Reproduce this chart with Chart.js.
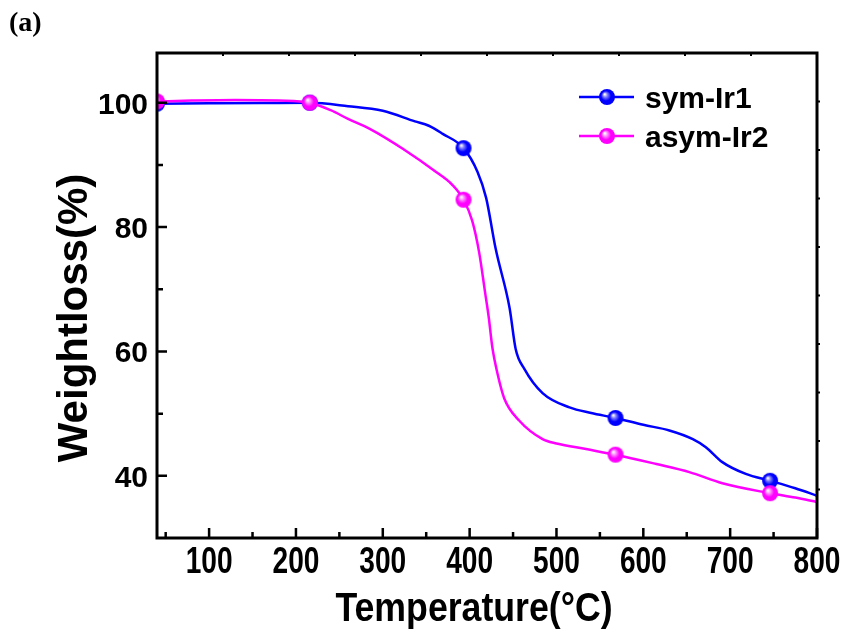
<!DOCTYPE html>
<html>
<head>
<meta charset="utf-8">
<script src="https://cdn.jsdelivr.net/npm/chart.js@4.4.0/dist/chart.umd.min.js"></script>
<style>
html,body{margin:0;padding:0;background:#fff;}
#wrap{width:856px;height:634px;position:relative;}
</style>
</head>
<body>
<div id="wrap"><canvas id="c" width="856" height="634"></canvas></div>
<script>
// ---- data ----
const seriesNames = ['sym-Ir1', 'asym-Ir2'];
const symTemp = [40, 100, 160, 216, 260, 300, 337, 353, 369, 393, 409, 419, 430, 446, 453, 463, 484, 515, 540, 568, 600, 630, 657, 672, 691, 718, 746, 775, 800];
const symWeight = [99.85, 99.9, 99.95, 100.0, 99.45, 98.7, 97.0, 96.3, 95.0, 92.7, 88.9, 84.7, 76.5, 67.0, 60.4, 57.2, 53.3, 51.0, 50.1, 49.3, 48.2, 47.3, 45.9, 44.6, 42.2, 40.3, 39.2, 38.0, 36.8];
const asymTemp = [40, 80, 130, 180, 216, 240, 260, 285, 323, 361, 380, 393, 403, 411, 418, 422, 426, 432, 440, 457, 484, 500, 534, 568, 615, 653, 691, 746, 775, 800];
const asymWeight = [100.2, 100.35, 100.45, 100.35, 100.0, 98.8, 97.4, 95.8, 92.6, 88.9, 86.8, 84.4, 81.0, 75.9, 69.3, 65.5, 60.8, 56.5, 52.4, 48.9, 45.9, 45.2, 44.3, 43.4, 41.9, 40.6, 38.8, 37.2, 36.5, 35.8];
const markerTemps = [40, 216, 393, 568, 746];
const xTickLabels = [100, 200, 300, 400, 500, 600, 700, 800];
const xMinorTicks = [50, 150, 250, 350, 450, 550, 650, 750];
const yTickLabels = [40, 60, 80, 100];
const yMinorTicks = [50, 70, 90];
const xTitle = 'Temperature(\u00B0C)';
const yTitle = 'Weightloss(%)';
const panelLabel = '(a)';

const BLUE = '#0000FF', MAG = '#FF00FF';

function makeBall(color, hi, r) {
  const c = document.createElement('canvas');
  c.width = c.height = r * 2 + 2;
  const g = c.getContext('2d');
  const cx = r + 1, cy = r + 1;
  const grad = g.createRadialGradient(cx - r * 0.3, cy - r * 0.35, r * 0.05, cx, cy, r);
  grad.addColorStop(0, '#ffffff');
  grad.addColorStop(0.25, hi);
  grad.addColorStop(0.6, color);
  grad.addColorStop(1, color);
  g.fillStyle = grad;
  g.beginPath(); g.arc(cx, cy, r, 0, Math.PI * 2); g.fill();
  return c;
}
const blueBall = makeBall(BLUE, '#8080ff', 8);
const magBall = makeBall(MAG, '#ff90ff', 8);

function pts(t, w) { return t.map((x, i) => ({x: x, y: w[i]})); }
function markerRadius(ctx) {
  const v = ctx.raw;
  return v && markerTemps.includes(v.x) ? 8 : 0;
}

function txt(ctx, s, x, y, font, align, sx, rot) {
  ctx.save();
  ctx.translate(x, y);
  if (rot) ctx.rotate(rot);
  ctx.scale(sx || 1, 1);
  ctx.font = font;
  ctx.textAlign = align || 'left';
  ctx.textBaseline = 'alphabetic';
  ctx.fillStyle = '#000';
  ctx.fillText(s, 0, 0);
  ctx.restore();
}

const decor = {
  id: 'decor',
  afterDatasetsDraw(chart) {
    const ctx = chart.ctx;
    const a = chart.chartArea;
    const xs = chart.scales.x, ys = chart.scales.y;
    ctx.save();
    ctx.strokeStyle = '#000';
    ctx.lineWidth = 3;
    ctx.lineCap = 'square';
    ctx.strokeRect(a.left, a.top, a.right - a.left, a.bottom - a.top);
    ctx.lineCap = 'butt';
    ctx.lineWidth = 2.5;
    ctx.beginPath();
    xTickLabels.forEach(v => { const p = xs.getPixelForValue(v); ctx.moveTo(p, a.bottom); ctx.lineTo(p, a.bottom - 10); });
    xMinorTicks.forEach(v => { const p = xs.getPixelForValue(v); ctx.moveTo(p, a.bottom); ctx.lineTo(p, a.bottom - 6); });
    yTickLabels.forEach(v => { const p = ys.getPixelForValue(v); ctx.moveTo(a.left, p); ctx.lineTo(a.left + 10, p); });
    yMinorTicks.forEach(v => { const p = ys.getPixelForValue(v); ctx.moveTo(a.left, p); ctx.lineTo(a.left + 6, p); });
    ctx.stroke();
    // small ticks on top / right axes (10 divisions)
    ctx.lineWidth = 2;
    ctx.beginPath();
    for (let i = 1; i < 10; i++) {
      const px = a.left + (a.right - a.left) * i / 10;
      ctx.moveTo(px, a.top - 1); ctx.lineTo(px, a.top + 3);
      const py = a.top + (a.bottom - a.top) * i / 10;
      ctx.moveTo(a.right - 1, py); ctx.lineTo(a.right + 3, py);
    }
    ctx.stroke();
    ctx.restore();

    // tick labels
    xTickLabels.forEach(v => txt(ctx, String(v), xs.getPixelForValue(v), 573, 'bold 36px "Liberation Sans", Arial', 'center', 0.78));
    yTickLabels.forEach(v => txt(ctx, String(v), 148, ys.getPixelForValue(v) + 11, 'bold 30px "Liberation Sans", Arial', 'right', 1));
    // axis titles
    txt(ctx, xTitle, 474, 621, 'bold 41px "Liberation Sans", Arial', 'center', 0.87);
    txt(ctx, yTitle, 87, 318, 'bold 42px "Liberation Sans", Arial', 'center', 1, -Math.PI / 2);
    txt(ctx, panelLabel, 9, 31, 'bold 28px "Liberation Serif", "Times New Roman", serif', 'left', 1);

    // legend
    const rows = [{y: 97, c: BLUE, b: blueBall, t: seriesNames[0]}, {y: 136, c: MAG, b: magBall, t: seriesNames[1]}];
    rows.forEach(r => {
      ctx.save();
      ctx.strokeStyle = r.c; ctx.lineWidth = 2.5;
      ctx.beginPath(); ctx.moveTo(579, r.y); ctx.lineTo(634, r.y); ctx.stroke();
      ctx.drawImage(r.b, 607 - r.b.width / 2, r.y - r.b.height / 2);
      ctx.restore();
      txt(ctx, r.t, 645, r.y + 11, 'bold 30px "Liberation Sans", Arial', 'left', 1);
    });
  }
};

new Chart(document.getElementById('c'), {
  type: 'line',
  data: {
    datasets: [
      {label: seriesNames[0], data: pts(symTemp, symWeight), borderColor: BLUE, borderWidth: 2.5,
       pointStyle: blueBall, pointRadius: markerRadius, pointHoverRadius: markerRadius,
       cubicInterpolationMode: 'monotone', clip: 0, order: 2},
      {label: seriesNames[1], data: pts(asymTemp, asymWeight), borderColor: MAG, borderWidth: 2.5,
       pointStyle: magBall, pointRadius: markerRadius, pointHoverRadius: markerRadius,
       cubicInterpolationMode: 'monotone', clip: 0, order: 1}
    ]
  },
  options: {
    responsive: false, animation: false, devicePixelRatio: 1,
    layout: {padding: {left: 0, right: 39, top: 53, bottom: 0}},
    plugins: {legend: {display: false}, tooltip: {enabled: false}},
    scales: {
      x: {type: 'linear', min: 40, max: 800, grid: {display: false}, border: {display: false},
          ticks: {display: false, stepSize: 100}, afterFit: s => { s.height = 96; }},
      y: {type: 'linear', min: 30, max: 108, grid: {display: false}, border: {display: false},
          ticks: {display: false, stepSize: 10}, afterFit: s => { s.width = 157; }}
    }
  },
  plugins: [decor]
});
</script>
</body>
</html>
